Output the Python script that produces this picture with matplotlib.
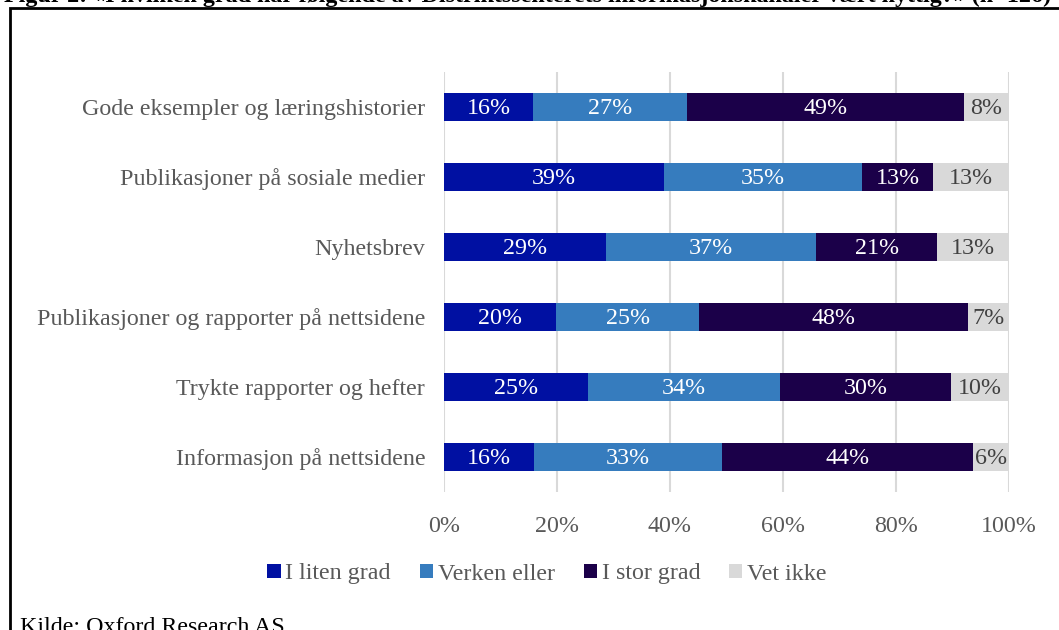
import numpy as np
import matplotlib.pyplot as plt
from matplotlib.patches import Rectangle

# Data (shares in %)
categories = ["Gode eksempler og læringshistorier",
              "Publikasjoner på sosiale medier",
              "Nyhetsbrev",
              "Publikasjoner og rapporter på nettsidene",
              "Trykte rapporter og hefter",
              "Informasjon på nettsidene"]
series_names = ["I liten grad", "Verken eller", "I stor grad", "Vet ikke"]
liten = [15.8, 38.9, 28.6, 19.8, 25.4, 15.9]
verken = [27.2, 35.1, 37.3, 25.4, 34.1, 33.3]
stor = [49.0, 12.6, 21.4, 47.6, 30.2, 44.4]
vet_ikke = [8.0, 13.4, 12.7, 7.2, 10.3, 6.4]
xticks = [0, 20, 40, 60, 80, 100]

colors = ["#0010A2", "#367CBE", "#1B0049", "#D9D9D9"]
label_colors = ["white", "white", "white", "#404040"]

plt.rcParams['font.family'] = ['Liberation Serif', 'DejaVu Serif']
FS = 17.3

W, H = 1059, 630
fig = plt.figure(figsize=(W / 100, H / 100), dpi=100)

# axes placed in pixel coordinates
x0, x1, y0, y1 = 444, 1009, 72, 492
ax = fig.add_axes([x0 / W, 1 - y1 / H, (x1 - x0) / W, (y1 - y0) / H])

y = np.arange(len(categories))
left = np.zeros(len(categories))
for vals, name, col, lc in zip([liten, verken, stor, vet_ikke], series_names, colors, label_colors):
    vals = np.array(vals)
    ax.barh(y, vals, left=left, height=0.4, color=col, label=name, zorder=2)
    for yi, l, v in zip(y, left, vals):
        ax.text(l + v / 2, yi + 0.02, f"{v:.0f}%", ha='center', va='center',
                color=lc, fontsize=FS, zorder=3)
    left += vals

ax.set_xlim(0, 100)
ax.set_ylim(len(categories) - 0.5, -0.5)
ax.set_yticks(y)
ax.set_yticklabels(categories, fontsize=FS, color='#595959')
ax.set_xticks(xticks)
ax.set_xticklabels([f"{t}%" for t in xticks], fontsize=FS, color='#595959')
ax.tick_params(length=0)
ax.tick_params(axis='x', pad=17)
ax.tick_params(axis='y', pad=13.5)
ax.grid(axis='x', color='#D9D9D9', linewidth=1.5, zorder=0)
for s in ax.spines.values():
    s.set_visible(False)

ax.legend(loc='center', bbox_to_anchor=(547 / W, 1 - 574 / H), bbox_transform=fig.transFigure,
          ncol=4, frameon=False, fontsize=FS, labelcolor='#595959',
          handlelength=0.55, handleheight=0.55, handletextpad=0.2, columnspacing=1.2)

# outer frame (runs off the right and bottom edges)
fig.patches.append(Rectangle((10 / W, -0.1), 1.2, 1.1 - 8 / H, transform=fig.transFigure,
                             fill=False, edgecolor='black', linewidth=2))

# title cut off at the top, source cut off at the bottom (as in the reference)
fig.text(4 / W, 1 - 2 / H, "Figur 2: «I hvilken grad har følgende av Distriktssenterets "
         "informasjonskanaler vært nyttig?» (n=126)", fontsize=FS, fontweight='bold',
         ha='left', va='baseline')
fig.text(20 / W, 1 - 633 / H, "Kilde: Oxford Research AS", fontsize=FS,
         ha='left', va='baseline', color='black')

fig.savefig("out.png", dpi=100)
